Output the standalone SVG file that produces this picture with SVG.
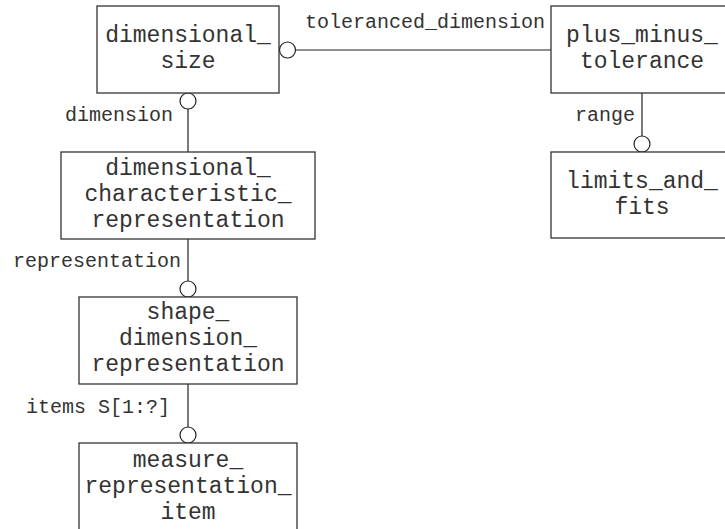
<svg xmlns="http://www.w3.org/2000/svg" width="725" height="529" viewBox="0 0 725 529">
<style>
.box{fill:#fff;stroke:#333;stroke-width:1.3}
.nt{font-family:"Liberation Mono","Courier New",monospace;font-size:23px;fill:#333;text-anchor:middle}
.lb{font-family:"Liberation Mono","Courier New",monospace;font-size:20px;fill:#333}
.ln{stroke:#222;stroke-width:1.2;fill:none}
.ci{stroke:#222;stroke-width:1.2;fill:#fff}
</style>
<rect width="725" height="529" fill="#fff"/>
<g id="connectors">
<line class="ln" x1="296" y1="50" x2="551" y2="50"/>
<circle class="ci" cx="287.5" cy="50" r="8"/>
<line class="ln" x1="188" y1="109" x2="188" y2="152"/>
<circle class="ci" cx="188" cy="101" r="8"/>
<line class="ln" x1="188" y1="239" x2="188" y2="281"/>
<circle class="ci" cx="188" cy="289" r="8"/>
<line class="ln" x1="188" y1="384" x2="188" y2="427"/>
<circle class="ci" cx="188" cy="435" r="8"/>
<line class="ln" x1="642" y1="93" x2="642" y2="136"/>
<circle class="ci" cx="642" cy="144" r="8"/>
<text class="lb" x="305" y="28">toleranced_dimension</text>
<text class="lb" x="173" y="121" text-anchor="end">dimension</text>
<text class="lb" x="13" y="267">representation</text>
<text class="lb" x="26" y="413">items S[1:?]</text>
<text class="lb" x="575" y="121">range</text>
</g>
<g id="dimensional_size">
<rect class="box" x="97" y="6" width="182" height="87"/>
<text class="nt" x="188" y="42">dimensional_</text>
<text class="nt" x="188" y="68">size</text>
</g>
<g id="plus_minus_tolerance">
<rect class="box" x="551" y="6" width="182" height="87"/>
<text class="nt" x="642" y="42">plus_minus_</text>
<text class="nt" x="642" y="68">tolerance</text>
</g>
<g id="limits_and_fits">
<rect class="box" x="551" y="152" width="182" height="86"/>
<text class="nt" x="642" y="188">limits_and_</text>
<text class="nt" x="642" y="214">fits</text>
</g>
<g id="dimensional_characteristic_representation">
<rect class="box" x="61" y="152" width="254" height="87"/>
<text class="nt" x="188" y="175">dimensional_</text>
<text class="nt" x="188" y="201">characteristic_</text>
<text class="nt" x="188" y="227">representation</text>
</g>
<g id="shape_dimension_representation">
<rect class="box" x="79" y="297" width="218" height="87"/>
<text class="nt" x="188" y="319">shape_</text>
<text class="nt" x="188" y="345">dimension_</text>
<text class="nt" x="188" y="371">representation</text>
</g>
<g id="measure_representation_item">
<rect class="box" x="79" y="443" width="218" height="100"/>
<text class="nt" x="188" y="467">measure_</text>
<text class="nt" x="188" y="493">representation_</text>
<text class="nt" x="188" y="519">item</text>
</g>
</svg>
